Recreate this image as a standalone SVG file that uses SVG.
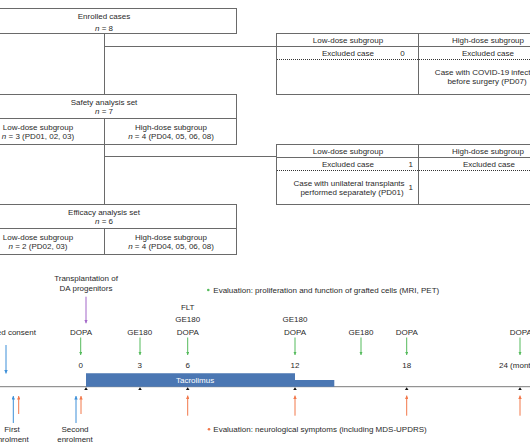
<svg xmlns="http://www.w3.org/2000/svg" width="530" height="442" viewBox="0 0 530 442">
<defs>
<style>
text { font-family: "Liberation Sans", Arial, sans-serif; font-size: 8px; fill: #2a2a2a; }
.c { text-anchor: middle; }
.i { font-style: italic; }
.box { fill: none; stroke: #6a6a6a; stroke-width: 1; }
.ln { fill: none; stroke: #6a6a6a; stroke-width: 1; }
.dot { fill: none; stroke: #333; stroke-width: 1; stroke-dasharray: 1 1; }
.tl { stroke: #7a7a7a; stroke-width: 1; }
.bar { fill: #4b77b3; }
.tick { fill: #111; }
.ag { stroke: #55bb5c; stroke-width: 1; marker-end: url(#mg); }
.ao { stroke: #f2784b; stroke-width: 1; marker-end: url(#mo); }
.ab { stroke: #3d8fd8; stroke-width: 1; marker-end: url(#mb); }
.ap { stroke: #a366c8; stroke-width: 1; marker-end: url(#mp); }
.wt { fill: #ffffff; }
</style>
<marker id="mg" viewBox="0 0 4 4" refX="4" refY="2" markerWidth="3.5" markerHeight="3.5" markerUnits="userSpaceOnUse" orient="auto"><path d="M0,0 L4,2 L0,4 z" fill="#55bb5c"/></marker>
<marker id="mo" viewBox="0 0 4 4" refX="4" refY="2" markerWidth="3.5" markerHeight="3.5" markerUnits="userSpaceOnUse" orient="auto"><path d="M0,0 L4,2 L0,4 z" fill="#f2784b"/></marker>
<marker id="mb" viewBox="0 0 4 4" refX="4" refY="2" markerWidth="3.5" markerHeight="3.5" markerUnits="userSpaceOnUse" orient="auto"><path d="M0,0 L4,2 L0,4 z" fill="#3d8fd8"/></marker>
<marker id="mp" viewBox="0 0 4 4" refX="4" refY="2" markerWidth="3.5" markerHeight="3.5" markerUnits="userSpaceOnUse" orient="auto"><path d="M0,0 L4,2 L0,4 z" fill="#a366c8"/></marker>
</defs>
<rect x="0" y="0" width="530" height="442" fill="#ffffff"/>

<g id="connectors">
<path class="ln" d="M104.5,33.5 V94.5 M104.5,46.5 H276.5"/>
<path class="ln" d="M104.5,144.5 V204.5 M104.5,156.5 H276.5"/>
</g>

<g id="enrolled">
<rect class="box" x="-29.5" y="8.5" width="266" height="25"/>
<text class="c" x="104" y="19">Enrolled cases</text>
<text class="c" x="104" y="31"><tspan class="i">n</tspan> = 8</text>
</g>

<g id="safety">
<rect class="box" x="-29.5" y="94.5" width="266" height="50"/>
<path class="ln" d="M-29.5,118.5 H236.5 M104.5,118.5 V144.5"/>
<text class="c" x="104" y="105">Safety analysis set</text>
<text class="c" x="104" y="114.3"><tspan class="i">n</tspan> = 7</text>
<text class="c" x="38" y="130.3">Low-dose subgroup</text>
<text class="c" x="38" y="139.3"><tspan class="i">n</tspan> = 3 (PD01, 02, 03)</text>
<text class="c" x="171" y="130.3">High-dose subgroup</text>
<text class="c" x="171" y="139.3"><tspan class="i">n</tspan> = 4 (PD04, 05, 06, 08)</text>
</g>

<g id="excluded1">
<rect class="box" x="276.5" y="33.5" width="290" height="61"/>
<path class="ln" d="M276.5,46.5 H566.5 M418.5,33.5 V94.5"/>
<path class="dot" d="M277,59.5 H566"/>
<text class="c" x="348" y="43.3">Low-dose subgroup</text>
<text class="c" x="488" y="43.3">High-dose subgroup</text>
<text class="c" x="348" y="56">Excluded case</text>
<text class="c" x="402.5" y="56">0</text>
<text class="c" x="488" y="56">Excluded case</text>
<text class="c" x="488" y="75">Case with COVID-19 infection</text>
<text class="c" x="487" y="83.8">before surgery (PD07)</text>
</g>

<g id="excluded2">
<rect class="box" x="276.5" y="144.5" width="290" height="60"/>
<path class="ln" d="M276.5,157.5 H566.5 M418.5,144.5 V204.5"/>
<path class="dot" d="M277,170.5 H566"/>
<text class="c" x="348" y="154">Low-dose subgroup</text>
<text class="c" x="488" y="154">High-dose subgroup</text>
<text class="c" x="348" y="167">Excluded case</text>
<text class="c" x="410.7" y="167">1</text>
<text class="c" x="489" y="167">Excluded case</text>
<text class="c" x="349" y="185.5">Case with unilateral transplants</text>
<text class="c" x="352" y="194.5">performed separately (PD01)</text>
<text class="c" x="410.7" y="190">1</text>
</g>

<g id="efficacy">
<rect class="box" x="-29.5" y="204.5" width="266" height="50"/>
<path class="ln" d="M-29.5,228.5 H236.5 M104.5,228.5 V254.5"/>
<text class="c" x="104" y="215">Efficacy analysis set</text>
<text class="c" x="104" y="224.3"><tspan class="i">n</tspan> = 6</text>
<text class="c" x="38" y="240.3">Low-dose subgroup</text>
<text class="c" x="38" y="249.3"><tspan class="i">n</tspan> = 2 (PD02, 03)</text>
<text class="c" x="171" y="240.3">High-dose subgroup</text>
<text class="c" x="171" y="249.3"><tspan class="i">n</tspan> = 4 (PD04, 05, 06, 08)</text>
</g>

<g id="timeline">
<line class="tl" x1="0" y1="386.7" x2="530" y2="386.7"/>
<path class="bar" d="M86,373.3 H295 V380 H334.3 V386.7 H86 z"/>
<text class="wt" x="176" y="383">Tacrolimus</text>
<g class="tick">
<polygon points="84.2,390 87.8,390 86,387.2"/>
<polygon points="138.2,390 141.8,390 140,387.2"/>
<polygon points="185.9,390 189.5,390 187.7,387.2"/>
<polygon points="293.2,390 296.8,390 295,387.2"/>
<polygon points="404.9,390 408.5,390 406.7,387.2"/>
<polygon points="518.2,390 521.8,390 520,387.2"/>
</g>
<text class="c" x="80.7" y="367.8">0</text>
<text class="c" x="139.7" y="367.8">3</text>
<text class="c" x="187.7" y="367.8">6</text>
<text class="c" x="295" y="367.8">12</text>
<text class="c" x="406.7" y="367.8">18</text>
<text x="499" y="367.8">24 (months)</text>
</g>

<g id="transplantation">
<text class="c" x="86" y="281">Transplantation of</text>
<text class="c" x="86" y="291">DA progenitors</text>
<line class="ap" x1="86" y1="296.7" x2="86" y2="323.3"/>
</g>

<g id="imaging">
<circle cx="208.3" cy="290" r="1.3" fill="#55bb5c"/>
<text x="213.3" y="292.8">Evaluation: proliferation and function of grafted cells (MRI, PET)</text>
<text class="c" x="81" y="335.2">DOPA</text>
<text class="c" x="139.7" y="335.2">GE180</text>
<text class="c" x="187.7" y="309.5">FLT</text>
<text class="c" x="187.7" y="322.4">GE180</text>
<text class="c" x="187.7" y="335.2">DOPA</text>
<text class="c" x="295" y="322.4">GE180</text>
<text class="c" x="295" y="335.2">DOPA</text>
<text class="c" x="361" y="335.2">GE180</text>
<text class="c" x="406.7" y="335.2">DOPA</text>
<text class="c" x="520.7" y="335.2">DOPA</text>
<line class="ag" x1="80.7" y1="337.5" x2="80.7" y2="355"/>
<line class="ag" x1="140" y1="337.5" x2="140" y2="355"/>
<line class="ag" x1="187.7" y1="337.5" x2="187.7" y2="355"/>
<line class="ag" x1="295" y1="337.5" x2="295" y2="355"/>
<line class="ag" x1="361" y1="337.5" x2="361" y2="355"/>
<line class="ag" x1="406.7" y1="337.5" x2="406.7" y2="355"/>
<line class="ag" x1="520" y1="337.5" x2="520" y2="355"/>
</g>

<g id="consent">
<text class="c" x="5" y="335.2">Informed consent</text>
<line class="ab" x1="6" y1="345" x2="6" y2="373.5"/>
</g>

<g id="first-enrolment">
<line class="ab" x1="13.3" y1="423" x2="13.3" y2="396"/>
<line class="ao" x1="18.7" y1="414" x2="18.7" y2="396"/>
<text class="c" x="12" y="432.2">First</text>
<text class="c" x="11" y="441.6">enrolment</text>
</g>

<g id="second-enrolment">
<line class="ab" x1="76" y1="423" x2="76" y2="396"/>
<line class="ao" x1="81" y1="414" x2="81" y2="396"/>
<text class="c" x="75" y="432.2">Second</text>
<text class="c" x="75" y="441.6">enrolment</text>
</g>

<g id="neuro">
<line class="ao" x1="187.7" y1="415.7" x2="187.7" y2="395.5"/>
<line class="ao" x1="295" y1="415.7" x2="295" y2="395.5"/>
<line class="ao" x1="406.7" y1="415.7" x2="406.7" y2="395.5"/>
<line class="ao" x1="520" y1="415.7" x2="520" y2="395.5"/>
<circle cx="209" cy="429.3" r="1.3" fill="#f2784b"/>
<text x="213.3" y="432.1">Evaluation: neurological symptoms (including MDS-UPDRS)</text>
</g>
</svg>
